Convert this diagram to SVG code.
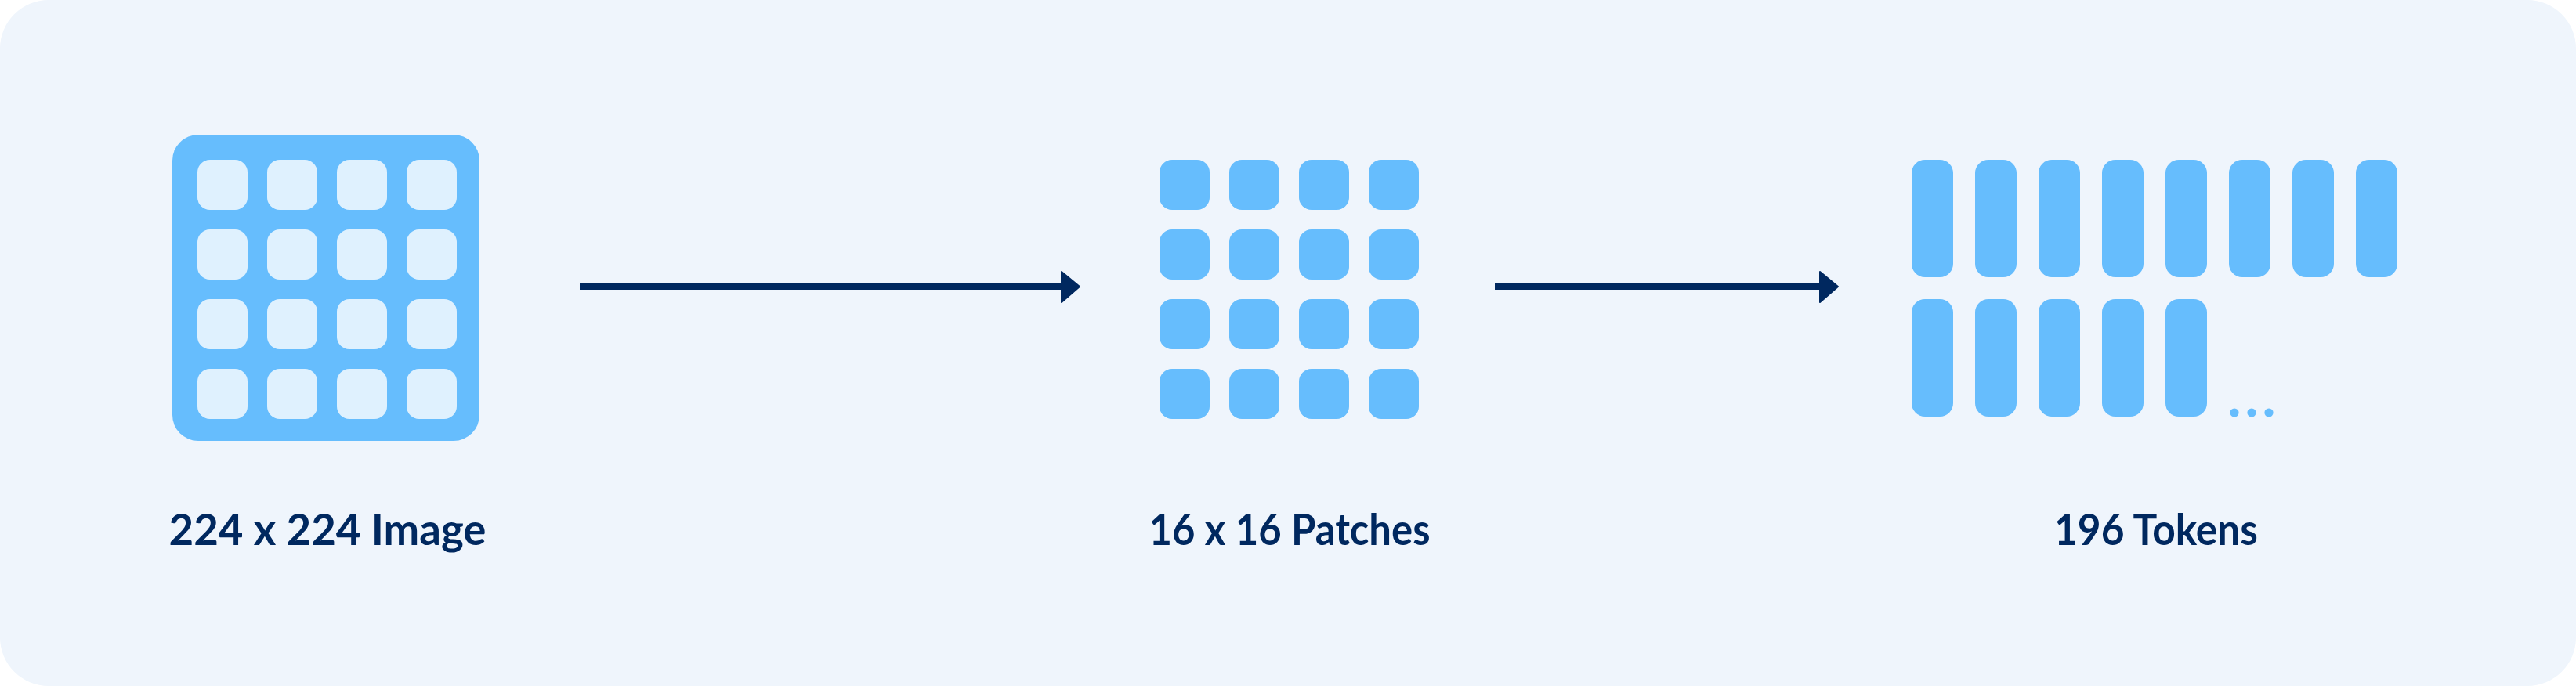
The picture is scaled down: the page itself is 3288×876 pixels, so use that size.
<svg xmlns="http://www.w3.org/2000/svg" width="3288" height="876" viewBox="0 0 3288 876">
<style>
.bg{fill:#EFF5FC}
.blue{fill:#66BDFD}
.light{fill:#DFF1FE}
.cell{fill:#DFF1FE}
.patch{fill:#66BDFD}
.tok{fill:#66BDFD}
.lbl{font-family:"Lato","Liberation Sans",sans-serif;font-weight:700;font-size:56px;fill:#00285F;text-anchor:middle}
.conn{stroke:#00285F;stroke-width:8;fill:none}
.head{fill:#00285F;stroke:#00285F;stroke-width:2;stroke-linejoin:round}
</style>
<defs>
<rect id="cellS" width="64" height="64" rx="16"/>
<rect id="bar" width="53" height="150" rx="17"/>
</defs>
<rect class="bg" x="0" y="0" width="3288" height="876" rx="62"/>

<g id="image-node">
<rect class="blue" x="220" y="172" width="392" height="391" rx="33"/>
<g class="cell">
<use href="#cellS" x="252" y="204"/><use href="#cellS" x="341" y="204"/><use href="#cellS" x="430" y="204"/><use href="#cellS" x="519" y="204"/>
<use href="#cellS" x="252" y="293"/><use href="#cellS" x="341" y="293"/><use href="#cellS" x="430" y="293"/><use href="#cellS" x="519" y="293"/>
<use href="#cellS" x="252" y="382"/><use href="#cellS" x="341" y="382"/><use href="#cellS" x="430" y="382"/><use href="#cellS" x="519" y="382"/>
<use href="#cellS" x="252" y="471"/><use href="#cellS" x="341" y="471"/><use href="#cellS" x="430" y="471"/><use href="#cellS" x="519" y="471"/>
</g>
<text class="lbl" x="418" y="696" textLength="405" lengthAdjust="spacingAndGlyphs">224 x 224 Image</text>
</g>

<g id="patches-node">
<g class="patch">
<use href="#cellS" x="1480" y="204"/><use href="#cellS" x="1569" y="204"/><use href="#cellS" x="1658" y="204"/><use href="#cellS" x="1747" y="204"/>
<use href="#cellS" x="1480" y="293"/><use href="#cellS" x="1569" y="293"/><use href="#cellS" x="1658" y="293"/><use href="#cellS" x="1747" y="293"/>
<use href="#cellS" x="1480" y="382"/><use href="#cellS" x="1569" y="382"/><use href="#cellS" x="1658" y="382"/><use href="#cellS" x="1747" y="382"/>
<use href="#cellS" x="1480" y="471"/><use href="#cellS" x="1569" y="471"/><use href="#cellS" x="1658" y="471"/><use href="#cellS" x="1747" y="471"/>
</g>
<text class="lbl" x="1646" y="696" textLength="359" lengthAdjust="spacingAndGlyphs">16 x 16 Patches</text>
</g>

<g id="tokens-node">
<g class="tok">
<use href="#bar" x="2440" y="204"/><use href="#bar" x="2521" y="204"/><use href="#bar" x="2602" y="204"/><use href="#bar" x="2683" y="204"/>
<use href="#bar" x="2764" y="204"/><use href="#bar" x="2845" y="204"/><use href="#bar" x="2926" y="204"/><use href="#bar" x="3007" y="204"/>
<use href="#bar" x="2440" y="382"/><use href="#bar" x="2521" y="382"/><use href="#bar" x="2602" y="382"/><use href="#bar" x="2683" y="382"/>
<use href="#bar" x="2764" y="382"/>
<circle cx="2852" cy="527" r="5.6"/><circle cx="2874" cy="527" r="5.6"/><circle cx="2896" cy="527" r="5.6"/>
</g>
<text class="lbl" x="2752" y="696" textLength="260" lengthAdjust="spacingAndGlyphs">196 Tokens</text>
</g>

<g id="connectors">
<line class="conn" x1="740" y1="366" x2="1356" y2="366"/>
<polygon class="head" points="1355,347 1378,366 1355,386"/>
<line class="conn" x1="1908" y1="366" x2="2324" y2="366"/>
<polygon class="head" points="2323,347 2346,366 2323,386"/>
</g>
</svg>
